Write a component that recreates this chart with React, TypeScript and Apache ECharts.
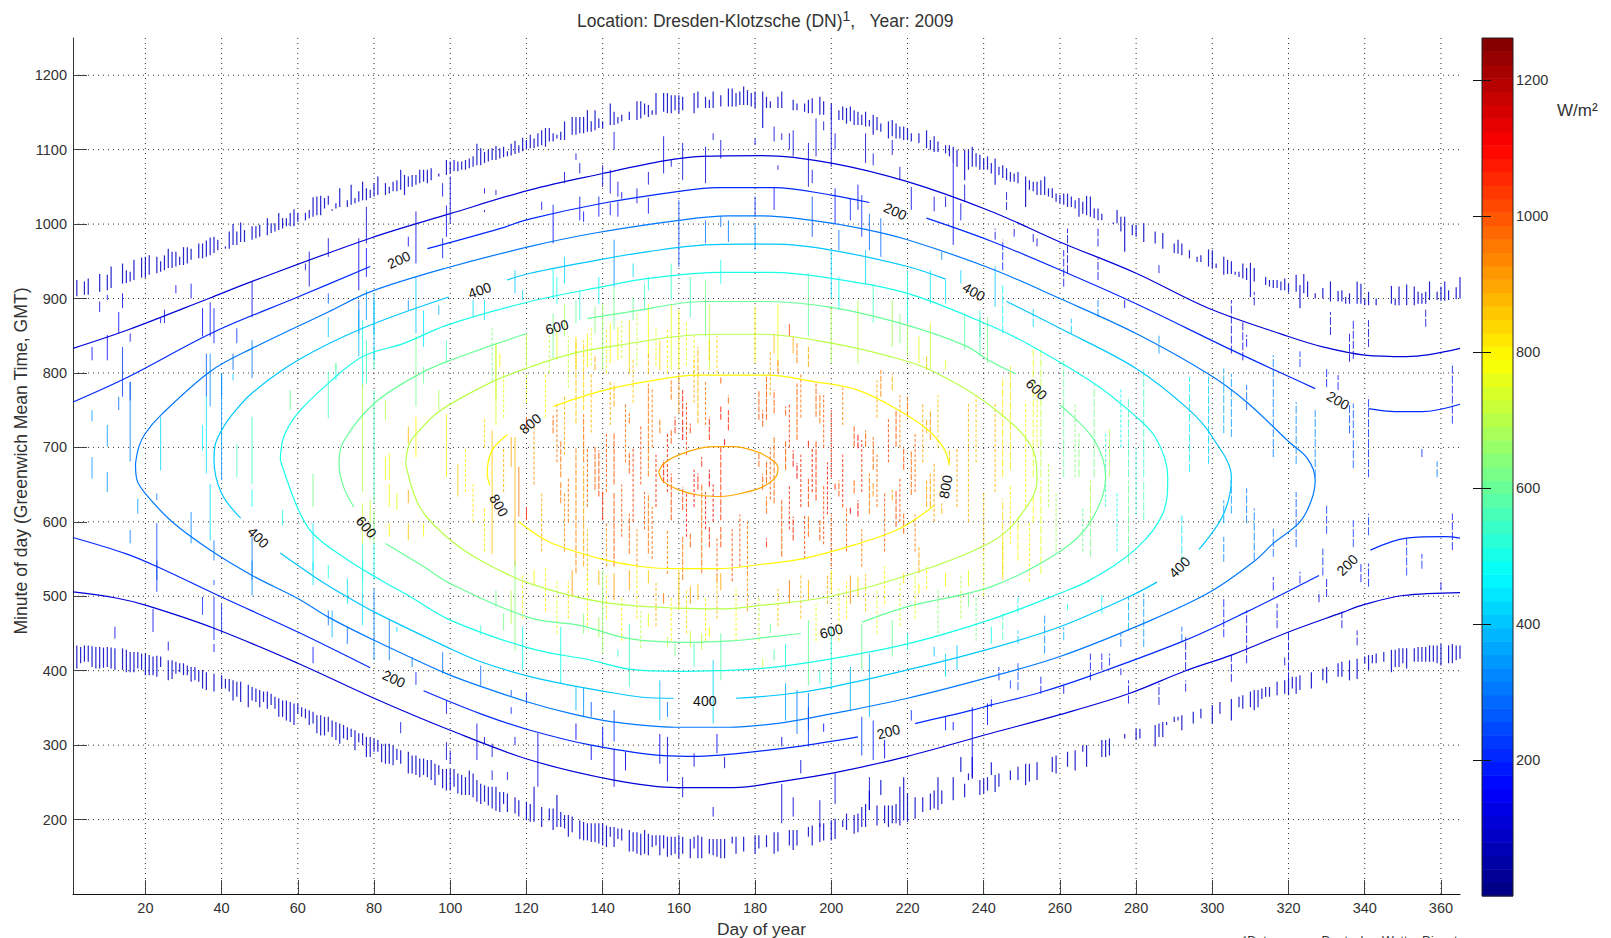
import React, { useEffect, useRef } from "react";
import * as echarts from "echarts";

const TITLE = "Location: Dresden-Klotzsche (DN){sup|1},   Year: 2009";
const X_TICKS = [20, 40, 60, 80, 100, 120, 140, 160, 180, 200, 220, 240, 260, 280, 300, 320, 340, 360];
const Y_TICKS = [200, 300, 400, 500, 600, 700, 800, 900, 1000, 1100, 1200];
const CB_TICKS = [200, 400, 600, 800, 1000, 1200];
const CB_MAX = 1262;

// contour lines: level -> broken segments of [day, minute]
const C100: number[][][] = [
  [[1,833],[15.5,858],[36.6,900],[48,923],[79,981],[100,1014],[121,1046],[140,1068],[156,1085],[166,1091],[182,1092],[200,1082],[220,1057],[242,1017],[260,976],[280,934],[299,887],[320,849],[329,835],[340,824],[351,822],[365,833]],
  [[1,506],[12,498],[20,488],[38,457],[60,410],[80,363],[100,320],[121,280],[143,253],[159.5,243],[174.4,243],[186.6,251],[201,263],[220,285],[242,316],[260,341],[278,369],[293,400],[305,421],[320,452],[334,478],[340,489],[350,501],[365,505]],
];
const C200: number[][][] = [
  [[1,761],[15.6,795],[38,855],[60,902],[79,943]],
  [[94,967],[113,994],[121,1007],[140,1028],[160,1044],[170,1049],[185,1049],[200,1039],[210,1029]],
  [[225,1008],[242,977],[262,934],[280,893],[305,831],[327,779]],
  [[341,752],[348,748],[355,748],[365,758]],
  [[1,579],[15,557],[23,540],[40,499],[60,452],[79,404]],
  [[93,373],[108,342],[121,320],[137,300],[156,286],[165,285],[174,288],[191,298],[207,311]],
  [[222,329],[237,347],[242,354],[255,371],[268,393],[293,441],[309,479],[328,528]],
  [[341.5,562],[351,578],[361,580],[365,578]],
];
const C300: number[][][] = [
  [[17.4,678],[18.3,701],[20,719],[24,743],[37,802],[48,833],[68,882],[79,909],[99,941],[121,970],[138,988],[160,1005],[173,1011],[182,1011],[195,1005],[208,994],[220,979],[242,940],[260,900],[280,853],[299.5,797],[309,761],[320,708],[325,685],[327,656],[326,629],[323,600],[316,571],[311,547],[299.5,506],[284,468],[260,419],[242,392],[220,363],[200,342],[187,330],[173,324],[159,324],[143,331],[132,342],[121,357],[108,379],[99,396],[80,441],[68,472],[60,497],[48,528],[37,562],[27,600],[20,638],[17.8,656],[17.4,678]],
];
const C400: number[][][] = [
  [[45,605],[40,638],[38,683],[38.4,705],[40,723],[42.3,741],[48,773],[60,817],[77,860],[99.6,902]],
  [[115,925],[121,934],[139,952],[152,963],[167,972],[177,973],[185,973],[200,965],[220,943],[230,926]],
  [[246,896],[260,860],[280,806],[294,750],[300,714],[305,660],[303,611],[296.5,563]],
  [[285.5,519],[278,499],[260,459],[242,430],[220,401],[200,378],[187.5,368],[175,363]],
  [[158.6,363],[151,364],[143,370],[132,380],[121,392],[108,412],[99,432],[80,479],[73,499],[65,524],[55.4,558]],
];
const C500: number[][][] = [
  [[55.4,683],[56.3,714],[60,746],[68,786],[77,822],[88,840],[99,864],[121,896],[140,916],[152,927],[171,935],[184,935],[200,927],[220,907],[242,863],[253,835],[269,786],[278,750],[285,714],[288.3,660],[287,611],[280,564],[268,522],[260,504],[242,469],[220,436],[200,416],[182,403],[170,400],[160,399],[147,402],[137,414],[121,430],[100,468],[89,501],[81,524],[73,549],[64,584],[60,618],[55.4,683]],
];
const C600: number[][][] = [
  [[74.7,620],[72,647],[70.8,678],[72,708],[80,759],[92,799],[100,817],[120,853]],
  [[136,873],[147,882],[166.5,896],[182,896],[200,888],[220,864],[235,837],[242,815],[248.4,799]],
  [[260,757],[269,710],[272,660],[268,600],[260,560],[242,513],[220,486],[208,465]],
  [[192,450],[180,443],[173.5,440],[162,438],[147,443],[134,461],[121,471],[100,517],[93,540],[83,571]],
];
const C700: number[][][] = [
  [[88.3,678],[89,701],[90.4,714],[97,748],[111,788],[121,808],[132,826],[144,837],[159.5,849],[171,852],[182,852],[200,840],[215.5,822],[226,804],[242,755],[253,696],[254,656],[249,604],[242,573],[224,535],[200,500],[182,488],[172,483],[159.5,484],[140,492],[121,517],[108,548],[99,580],[92,620],[88.3,678]],
];
const C800: number[][][] = [
  [[110.4,649],[109.7,665],[111,696],[115,717]],
  [[127,755],[139,775],[151,788],[165,797],[183,797],[196,788],[207,777],[217,752],[225,725],[229.5,699],[231,676]],
  [[227,622],[218,591],[206,569],[193,551],[182,543],[170,537],[160,537],[150,540],[139,551],[126,573],[118,600]],
];
const C900: number[][][] = [
  [[154.7,667],[156,678],[160,690],[165.7,699],[171,701],[174,701],[180.6,694],[185,681],[186,672],[185.4,660],[182,647],[177,639],[171,634],[165,636],[160,643],[156,654],[154.7,667]],
];
const CONTOURS: [number, number[][][]][] = [[100,C100],[200,C200],[300,C300],[400,C400],[500,C500],[600,C600],[700,C700],[800,C800],[900,C900]];

// [label, day, minute, rotation in degrees]
const CONTOUR_LABELS: [string, number, number, number][] = [
  ["200",86.5,952,25],["400",107.7,911,20],["600",128,862,15],["800",121,732,40],["800",112.8,622,-60],["600",78,593,-50],["400",49.6,579,-45],
  ["200",85.2,389,-25],["400",166.8,359,0],["200",215,318,15],["600",200,453,15],["200",216.8,1017,-25],["400",237.4,909,-30],["600",253.9,778,-45],
  ["200",333,763,-30],["800",230,647,80],["400",291.4,539,45],["200",335.4,542,45],
];

// short outer bars: [day, from minute, to minute]
const TOP_BAND: number[][] = [
[2,903,925],[4,905,923],[5,905,927],[8,909,933],[10,911,932],[11,914,943],[14,920,947],[15,921,938],[16,923,936],[17,925,952],[19,928,955],[20,928,956],[21,932,958],[23,934,956],[24,936,950],[25,938,958],[26,941,967],[27,941,963],[28,943,963],[29,945,956],[30,945,969],[31,947,969],[32,952,967],[34,954,974],[35,954,974],[36,956,978],[37,958,982],[38,961,983],[39,965,979],[41,967,970],[42,967,990],[43,972,1000],[44,972,990],[45,976,1002],[46,976,992],[48,979,997],[49,981,997],[50,983,999],[52,985,1008],[53,988,1001],[54,990,1001],[55,992,1015],[56,994,1008],[57,997,1008],[58,997,1015],[59,997,1020],[60,1003,1015],[62,1005,1015],[63,1008,1019],[64,1010,1036],[65,1012,1037],[66,1012,1038],[67,1021,1035],[68,1026,1038],[69,1018,1020],[70,1021,1028],[71,1023,1048],[73,1023,1032],[74,1026,1053],[75,1028,1035],[76,1030,1044],[77,1032,1057],[78,1032,1048],[79,1035,1046],[80,1037,1055],[81,1039,1064],[83,1039,1055],[84,1041,1050],[85,1044,1057],[86,1044,1059],[87,1046,1073],[88,1039,1066],[89,1050,1064],[90,1050,1066],[91,1053,1066],[92,1055,1073],[93,1057,1073],[94,1055,1073],[95,1059,1075],[97,1064,1068],[99,1066,1086],[100,1068,1084],[101,1071,1086],[102,1071,1084],[103,1073,1084],[104,1073,1086],[105,1075,1088],[106,1077,1091],[107,1079,1108],[108,1079,1102],[109,1082,1097],[110,1084,1100],[111,1086,1102],[112,1086,1105],[113,1088,1102],
[114,1090,1104],[115,1091,1098],[116,1092,1108],[117,1094,1112],[118,1096,1106],[119,1098,1116],[120,1100,1113],
[121,1102,1120],[122,1102,1115],[123,1104,1122],[124,1106,1126],[125,1104,1129],[126,1111,1129],[127,1111,1122],[128,1115,1120],[129,1113,1124],[130,1113,1138],[132,1120,1144],[133,1120,1144],[134,1122,1144],[135,1122,1144],[136,1124,1153],[137,1124,1138],[138,1126,1153],[139,1129,1142],[140,1129,1138],[142,1133,1162],[143,1133,1151],[144,1135,1144],[145,1138,1147],[147,1140,1151],[149,1140,1165],[150,1142,1165],[151,1147,1162],[152,1144,1160],[153,1147,1153],[154,1147,1176],[156,1151,1176],[157,1149,1176],[158,1149,1173],[159,1153,1173],[160,1149,1173],[161,1153,1171],[164,1149,1176],[165,1156,1178],[167,1156,1171],[168,1156,1167],[169,1156,1178],[171,1158,1173],[173,1158,1182],[174,1158,1182],[175,1158,1176],[176,1160,1178],[177,1160,1185],[178,1160,1180],[179,1158,1176],[180,1156,1178],[182,1129,1178],[183,1156,1171],[184,1156,1165],[186,1156,1171],[187,1156,1178],[190,1153,1167],[191,1153,1162],[193,1151,1162],[194,1149,1167],[195,1149,1169],[197,1147,1171],[198,1147,1165],[200,1140,1162],[202,1140,1153],[203,1140,1158],[204,1135,1156],[205,1138,1158],[206,1133,1153],[207,1133,1151],[208,1133,1147],[209,1131,1151],[210,1131,1140],[211,1120,1147],[212,1126,1144],[213,1124,1135],[215,1115,1138],[216,1118,1140],[217,1115,1135],[218,1115,1131],[219,1113,1131],[220,1113,1129],[221,1111,1122],[223,1109,1122],[225,1102,1126],[226,1100,1113],[227,1097,1118],[228,1097,1111],[230,1095,1106],[231,1091,1106],[232,1082,1104],[233,1077,1100],[235,1059,1100],[236,1073,1100],[237,1077,1104],[238,1077,1095],[239,1073,1093],[240,1073,1088],[241,1073,1091],[242,1068,1082],[243,1053,1088],[244,1066,1077],
[245,1062,1079],[246,1059,1075],[247,1057,1070],[248,1057,1068],[249,1055,1070],[251,1023,1064],[252,1046,1059],[253,1044,1057],[254,1039,1057],[255,1039,1059],[256,1039,1064],[257,1037,1048],[258,1035,1048],[259,1030,1041],[260,1028,1039],[261,1026,1041],[262,1023,1041],[263,1023,1037],[264,1021,1032],[265,1010,1035],[266,1014,1030],[267,1012,1038],[268,1010,1037],[269,1008,1021],[270,1005,1021],[271,1005,1014],[274,1000,1002],[275,1001,1019],[276,990,1010],[277,963,1010],[279,985,999],[280,983,999],[282,976,1001],[285,974,990],[287,967,988],[290,961,974],[291,960,979],[292,958,974],[294,954,965],[296,949,956],[297,949,958],[299,943,966],[300,941,965],[301,941,947],[303,932,956],[304,933,952],[305,933,950],[306,932,936],[307,929,936],[308,927,947],[309,925,941],[310,902,948],[311,923,941],[314,918,929],[315,916,925],[316,914,925],[317,914,925],[318,911,923],[319,911,927],[320,908,920],[322,909,932],[323,887,918],[324,907,933],[325,902,923],[327,900,907],[329,900,914],[331,896,923],[333,896,910],[334,896,911],[335,893,902],[336,893,907],[338,893,923],[339,893,920],[340,891,900],[341,891,909],[343,891,900],[347,893,917],[348,891,900],[349,891,916],[351,891,919],[353,891,916],[354,893,909],[355,893,907],[356,893,909],[357,898,923],[359,898,909],[360,897,916],[361,897,923],[362,898,911],[364,899,915],[365,900,929],
];
const BOTTOM_BAND: number[][] = [
[2,403,434],[3,410,432],[4,412,434],[5,412,434],[6,405,433],[7,403,432],[8,403,432],[9,404,431],[10,405,432],[11,403,431],[12,401,430],[14,401,430],[15,398,428],[16,398,425],[17,398,425],[18,403,425],[19,401,423],[20,394,423],[21,394,421],[22,394,419],[23,392,420],[24,405,419],[26,387,414],[27,389,414],[28,396,412],[29,398,410],[30,394,410],[31,394,407],[32,385,405],[33,387,405],[34,385,401],[35,376,401],[36,374,398],[38,372,396],[40,376,394],[41,376,389],[42,372,389],[43,360,387],[44,365,385],[45,358,385],[47,351,381],[48,360,378],[49,358,376],[50,351,374],[51,358,372],[52,349,372],[53,354,369],[54,349,365],[55,338,363],[56,338,360],[57,333,360],[58,331,358],[59,327,356],[60,342,356],[61,338,351],[62,336,349],[63,327,347],[64,329,345],[65,316,340],[66,313,340],[67,313,338],[68,318,338],[69,311,333],[70,307,331],[71,302,329],[72,309,327],[73,307,324],[74,311,322],[75,293,320],[76,304,316],[77,300,316],[78,284,311],[79,284,311],[80,291,309],[81,291,307],[82,277,302],[83,275,302],[84,275,302],[85,273,300],[86,280,295],[87,275,293],[89,262,291],[90,262,286],[91,260,286],[92,257,282],[93,260,282],[94,257,280],[95,253,280],[96,246,275],[97,260,273],[98,242,268],[99,239,268],[100,239,268],[101,244,268],[102,235,262],[103,233,260],[104,233,257],[105,233,266],[106,230,262],[107,224,253],[108,221,248],[109,224,246],[110,219,244],[111,215,244],[112,212,244],[113,210,237],[114,221,237],[115,210,235],[117,208,230],[118,204,226],[120,199,224],[121,197,221],[122,197,244],
[124,190,217],[126,199,215],[127,186,215],[128,190,233],[129,190,210],[130,188,206],[131,177,206],[132,183,204],[134,174,199],[135,172,197],[136,172,195],[137,170,195],[138,170,195],[139,168,195],[140,165,195],[141,163,192],[142,177,190],[143,163,190],[144,174,188],[145,172,188],[147,157,186],[148,157,183],[149,154,183],[150,152,181],[151,154,186],[152,152,181],[153,163,179],[154,165,179],[155,152,179],[156,161,179],[157,150,177],[158,152,177],[159,154,177],[160,148,179],[161,154,177],[163,148,174],[164,161,177],[165,148,179],[166,148,177],[168,154,174],[169,152,174],[170,150,174],[171,148,174],[172,148,174],[174,168,177],[175,154,177],[177,157,177],[180,154,179],[181,161,179],[183,163,179],[185,154,183],[186,157,183],[189,165,186],[190,159,186],[191,165,186],[194,177,190],[195,165,192],[197,170,195],[198,172,195],[200,172,199],[201,174,201],[203,190,199],[204,186,208],[206,181,206],[207,183,208],[208,190,217],[209,190,221],[210,213,239],[212,192,219],[213,233,253],[214,195,219],[215,190,219],[216,195,219],[217,195,221],[218,192,244],[219,199,257],[220,197,235],[222,201,230],[224,210,230],[226,213,235],[227,215,239],[228,213,257],[229,221,239],[232,226,257],[234,264,284],[235,230,248],[236,253,262],[237,255,284],[239,233,253],[240,235,255],[241,239,257],[242,260,277],[243,237,260],[244,244,262],
[247,253,266],[249,253,271],[251,246,275],[252,251,275],[254,253,277],[258,264,284],[259,262,286],[262,271,291],[264,266,293],[266,291,300],[267,271,300],[271,284,307],[272,284,307],[273,286,309],[277,309,315],[280,307,322],[281,309,322],[285,298,327],[286,311,329],[287,311,331],[288,327,331],[290,331,338],[291,333,338],[292,320,340],[295,329,345],[297,336,349],[300,329,354],[302,342,358],[305,333,362],[307,351,365],[308,349,367],[310,351,372],[311,347,374],[312,351,374],[313,362,376],[314,365,378],[315,365,378],[317,367,385],[319,369,387],[320,367,389],[321,376,392],[322,369,392],[323,374,394],[326,376,398],[329,387,403],[330,383,405],[333,392,410],[334,392,412],[336,387,414],[338,389,416],[340,410,419],[341,401,421],[342,410,421],[343,410,423],[345,412,425],[347,398,428],[348,405,428],[349,405,430],[350,410,430],[351,403,430],[353,412,430],[354,412,432],[355,412,432],[356,412,432],[357,412,434],[358,412,434],[359,410,434],[360,407,436],[362,410,434],[363,410,436],[364,414,434],[365,416,434],
];

// inner bars: [day, from minute, to minute, W/m2]
const INNER_LEFT: number[][] = [
[8,882,896,130],[10,898,905,130],[10,817,851,170],[6,817,835,170],[14,887,907,130],[13,853,882,150],[16,842,853,150],[14,768,835,230],[16,763,788,230],[28,907,918,120],[32,900,920,120],[35,849,887,150],[37,849,895,170],[38,840,887,180],[24,867,875,140],[25,867,885,130],[44,840,860,210],[48,875,922,120],[48,793,844,300],[36,768,826,260],[40,768,800,300],[43,804,826,280],[62,938,947,110],[63,916,963,110],[68,956,981,100],[68,893,907,280],[68,848,875,400],[70,790,813,500],[76,911,981,120],[76,853,898,280],[78,974,1023,110],[78,929,968,170],[78,871,911,350],[78,786,844,550],[80,853,907,380],[80,804,835,550],[89,970,983,150],[91,947,1017,120],[91,853,929,400],[89,884,898,350],[93,835,884,450],[97,878,891,380],[98,1037,1055,100],[99,983,1025,120],[98,954,981,180],[100,1001,1064,100],[106,875,898,420],[109,871,898,450],[109,1041,1048,100],[109,1016,1019,120],[112,1039,1046,100],[99,813,844,560],[112,764,840,720],
[6,735,750,350],[6,658,687,350],[10,701,730,350],[10,640,667,350],[13,750,768,290],[16,681,788,300],[16,571,589,300],[18,611,631,350],[23,629,638,300],[23,506,548,200],[24,669,741,430],[23,522,598,240],[32,571,613,320],[35,696,730,470],[36,665,768,440],[37,755,826,320],[37,575,651,430],[38,548,575,300],[40,656,800,340],[43,790,799,400],[44,660,705,560],[48,651,741,550],[48,620,643,480],[48,522,580,300],[58,750,777,600],[56,595,616,500],[68,739,802,560],[64,620,665,620],[64,535,598,450],[70,804,813,650],[76,822,885,380],[77,781,871,500],[77,640,786,700],[77,571,625,720],[80,817,898,400],[80,625,777,560],[80,571,615,640],[77,522,571,520],[80,522,571,480],[79,575,629,720],[83,737,763,700],[83,656,687,780],[84,656,692,800],[84,620,651,780],[84,580,598,800],[86,616,638,750],[89,705,728,880],[89,625,643,900],[89,575,598,850],[91,755,850,620],[91,687,741,800],[93,786,808,600],[93,580,598,780],[97,750,777,680],[99,660,745,820],[102,634,678,850],[112,730,840,740],[111,557,723,850],[113,808,826,800],[116,674,714,900],[117,540,714,880],[118,607,674,950],[120,808,853,720],[120,602,620,1050],[120,723,741,1000],[119,898,911,430],[117,907,938,400],
[12,443,459,130],[22,452,483,130],[26,427,439,100],[35,475,499,200],[38,515,522,240],[38,441,499,200],[38,425,436,130],[40,450,490,200],[48,501,548,320],[64,515,546,450],[64,410,432,160],[68,524,542,500],[68,461,481,290],[69,445,481,380],[73,490,524,450],[73,436,459,290],[77,504,548,500],[77,461,504,450],[80,414,510,320],[84,414,468,300],[86,452,459,420],[87,316,331,100],[90,405,418,300],[91,381,398,180],[98,396,425,300],[99,342,360,130],[99,280,304,110],[100,275,293,100],[108,448,461,550],[108,380,407,280],[107,280,329,110],[109,302,311,120],[111,284,302,100],[111,253,266,100],[115,253,264,100],[116,365,374,250],[116,342,351,180],[117,300,311,120],[117,427,548,650],[119,400,459,480],[120,356,371,230],[123,244,316,120],[116,463,508,700],[112,486,508,620],[114,454,477,620],[122,515,535,800],
];
const INNER_TOP: number[][] = [
[140,1050,1079,100],[143,1100,1124,100],[156,1068,1118,100],[158,1077,1086,110],[161,1059,1109,110],[167,1055,1104,110],[169,1113,1122,100],[171,1088,1113,100],[180,1106,1115,100],[185,1111,1131,100],[187,1113,1122,100],[189,1100,1122,100],[190,1091,1126,100],[194,1050,1109,110],[196,1091,1142,100],[198,1126,1138,100],[200,1077,1140,100],[201,1100,1122,100],[186,1073,1079,120],[209,1082,1122,100],[211,1079,1095,100],[216,1093,1113,100],[218,1059,1077,110],[221,1019,1050,130],[227,1017,1037,110],[230,1023,1037,120],[232,972,1082,120],[234,1005,1028,130],[235,1030,1053,110],[134,1068,1082,100],[130,1055,1070,100],[133,1086,1095,100],[142,1041,1073,110],[144,1037,1057,120],[145,1034,1043,120],[149,1028,1048,120],[152,1053,1070,110],[152,1014,1035,150],[144,1010,1030,160],[124,1019,1030,150],[127,974,1026,170],[134,1005,1037,150],[135,1003,1017,170],[139,1010,1037,160],[142,1012,1028,170],[160,943,1032,250],[158,898,947,550],[167,974,1005,300],[171,996,1010,280],[173,976,1005,300],[180,1010,1037,200],[180,965,1001,330],[185,1019,1050,170],[195,1055,1073,110],[195,983,1037,240],[201,1001,1048,170],[202,965,992,300],[205,1005,1035,200],[207,1019,1053,130],[208,983,1039,200],[210,965,1014,280],[213,956,1008,280],[209,920,965,420],[220,867,938,500],[226,893,938,450],[229,952,963,330],[230,893,925,450],[234,920,938,420],[243,889,943,410],[239,849,884,550],
[127,900,940,480],[127,820,880,620],[128,893,929,500],[128,818,858,750],[130,920,956,430],[130,849,893,680],[133,867,898,600],[133,808,849,820],[134,871,911,520],[136,808,853,800],[138,853,889,650],[139,893,929,480],[140,804,893,660],[142,813,867,800],[143,916,979,330],[143,858,916,620],[144,817,862,780],[147,808,871,830],[148,929,947,420],[148,871,902,600],[151,885,920,560],[152,911,929,500],[152,822,893,770],[155,804,844,840],[158,804,893,760],[160,804,885,800],[163,875,929,560],[167,849,925,620],[168,804,893,720],[171,920,952,500],[180,813,889,800],[186,808,893,780],[185,826,853,850],[189,849,866,1030],[190,826,849,900],[194,849,934,600],[200,900,965,420],[200,813,890,680],[202,885,929,480],[207,813,898,700],[211,867,920,560],[216,835,898,680],[218,840,880,640],[220,822,867,680],[223,813,849,760],[226,804,867,720],[230,804,817,760],[235,831,880,590],[239,822,875,560],[241,813,875,620],
];
const INNER_CENTER: number[][] = [
[127,719,743,980],[129,660,710,950],[129,625,655,950],[133,732,844,860],[133,531,699,930],[135,750,844,830],[135,680,745,950],[135,540,675,900],[138,804,822,900],[138,643,701,1000],[139,634,696,1020],[140,602,643,1050],[143,755,786,900],[143,650,719,1000],[143,540,640,1000],[147,799,808,860],[147,732,746,980],[147,665,692,1000],[147,557,611,980],[152,799,826,880],[152,661,786,950],[152,557,638,960],[155,719,737,950],[156,652,683,1080],[158,764,790,960],[158,705,723,1000],[158,602,665,1010],[159,719,741,1050],[160,746,799,930],[161,741,777,1080],[161,710,737,1100],[161,616,647,1020],[161,522,580,960],[163,719,732,1040],[163,566,584,1000],[165,732,835,870],[165,643,665,1050],[166,674,687,1050],[166,531,652,980],[168,817,844,830],[168,710,741,1060],[168,647,670,1120],[168,566,593,1050],[171,786,795,1000],[171,737,755,1080],[171,602,701,1040],[171,566,593,1020],[172,703,712,1130],[173,759,770,980],[173,723,750,1060],[181,737,777,1000],[181,674,692,1000],[182,728,750,1020],[182,643,665,1000],[183,737,795,1000],[183,652,683,1000],[183,611,634,980],[183,566,578,1060],[185,746,777,1000],[185,625,716,980],[186,799,817,950],[187,553,629,1000],[188,743,755,1000],[188,670,710,1000],[190,575,607,1050],[190,674,696,1080],[191,813,840,960],[191,710,786,1000],[191,658,679,1110],[194,808,835,900],[194,701,710,1080],[194,620,658,1010],[194,580,607,980],[196,741,786,990],[196,629,710,1040],[197,732,773,960],[197,575,602,1000],[201,643,652,1050],[202,634,656,1000],[205,611,620,1100],[206,701,728,1010],[206,638,656,1000],[207,699,719,1100],[207,607,629,1090],[209,701,723,1000],[210,611,665,950],[211,670,714,980],[211,634,652,920],[213,768,804,930],[216,777,799,880],[216,629,643,900],[217,701,750,1000],[217,593,643,1020],[219,670,701,1000],[219,584,611,1000],[221,636,696,980],[220,741,768,950],[225,804,822,860],[225,719,737,900],[225,620,656,900],[226,710,750,920],[226,620,665,900],[223,531,566,900],[229,611,625,870],[231,679,696,860],
];
const INNER_BELOW: number[][] = [
[132,499,535,900],[139,515,535,870],[143,495,531,900],[147,508,535,900],[152,517,535,860],[156,490,504,950],[160,481,535,860],[163,490,513,900],[165,495,517,860],[171,508,531,900],[189,490,522,950],[194,495,522,870],[200,504,535,820],[205,490,528,920],[207,499,526,830],[219,517,531,820],[223,504,517,800],[230,513,531,780],[236,513,535,750],
[129,383,459,500],[135,450,477,650],[139,445,472,680],[140,423,535,660],[144,419,428,520],[147,378,463,560],[152,459,477,760],[157,432,445,700],[159,419,436,620],[163,432,454,720],[164,405,436,560],[166,428,450,700],[168,445,459,800],[169,329,414,420],[171,387,450,580],[182,403,416,720],[185,414,428,580],[184,450,463,620],[188,401,436,500],[194,380,468,600],[194,320,370,300],[197,383,401,520],[200,374,459,520],[205,347,405,380],[208,401,463,620],[210,338,423,380],[216,419,468,600],[220,428,450,500],[227,419,432,400],[230,392,423,420],[233,401,434,400],[236,486,504,620],[242,436,459,500],
[133,347,378,380],[133,307,329,150],[135,338,378,340],[137,338,358,260],[137,280,300,130],[143,305,347,220],[143,244,295,130],[140,298,325,170],[146,266,291,110],[155,333,387,400],[155,275,315,140],[157,338,358,300],[157,251,311,130],[161,230,257,110],[164,271,289,110],[169,204,217,100],[170,289,315,140],[172,269,284,110],[187,298,311,130],[187,195,248,110],[188,333,383,370],[191,315,374,310],[192,262,280,110],[198,318,329,140],[201,221,262,100],[190,204,230,110],[197,190,226,100],[194,298,351,240],[208,286,338,220],[211,280,333,200],[214,282,307,140],[210,213,257,100],[221,333,347,210],[230,320,338,180],[232,320,331,170],[237,257,351,140],[241,327,356,180],
];
const INNER_RIGHT: number[][] = [
[243,979,994,110],[246,1019,1043,100],[248,983,997,100],[253,976,987,100],[254,970,983,100],[262,934,994,110],[261,916,965,130],[270,970,994,100],[270,925,954,100],[277,887,898,130],[286,934,945,100],[305,826,898,110],[308,817,869,120],[309,835,851,130],[331,851,882,100],[337,819,871,130],[336,815,853,120],[341,835,871,110],[356,862,885,100],[311,891,909,100],[323,808,829,200],[330,781,808,180],[333,777,797,180],[316,687,824,300],[322,678,761,330],[327,660,750,320],[337,672,759,260],[336,719,759,240],[341,660,768,200],[363,732,813,180],[355,687,701,200],[359,660,681,300],[309,750,784,290],[303,719,806,370],[305,714,799,350],[299,678,795,420],[294,667,795,470],[286,826,853,350],[263,853,873,400],[270,875,898,330],[253,862,889,430],[282,660,808,550],[278,660,768,570],[273,660,727,680],[269,660,786,620],[265,660,719,650],[261,660,817,600],[255,660,835,720],[253,660,835,760],[247,670,809,820],[245,938,979,180],[245,853,920,470],[245,660,795,820],
[292,544,611,450],[292,439,459,280],[303,598,629,350],[303,546,580,330],[305,611,656,350],[309,598,645,300],[311,548,618,310],[316,553,593,280],[322,566,640,270],[330,584,622,220],[337,566,602,220],[341,582,611,230],[341,513,544,190],[339,519,544,170],[329,528,564,200],[330,499,526,130],[328,492,506,120],[323,517,533,180],[309,410,481,150],[303,445,499,180],[316,508,526,170],[317,457,490,130],[319,407,418,110],[320,387,452,120],[334,457,479,110],[338,434,454,100],[351,528,578,230],[355,537,557,200],[360,508,522,160],[363,562,611,180],[293,401,445,130],[293,372,387,110],[305,385,421,110],[286,354,383,110],[278,356,387,120],[271,401,423,170],[276,394,403,130],[268,387,423,160],[273,407,423,210],[261,369,383,130],[255,369,392,140],[256,423,477,320],[242,351,365,150],[244,387,405,200],[247,376,387,220],[249,374,410,250],[249,477,499,500],[249,436,454,420],[245,441,477,560],[245,530,575,800],[261,441,459,380],[262,481,490,520],[268,598,656,680],[268,553,598,620],[271,477,504,470],[278,544,656,600],[282,602,656,560],[282,432,504,340],[278,454,499,390],[276,432,450,280],[255,530,656,750],[253,598,634,780],[249,548,607,780],[245,522,631,830],
];
const INNER_STREAKS: number[][] = [
[104,640,700,800],[106,600,650,820],[109,700,740,840],[109,560,620,820],[114,640,700,880],[114,740,800,760],[122,650,730,920],[124,560,640,900],[125,740,800,800],[128,680,760,950],
[130,560,640,930],[130,690,770,900],[131,600,660,960],[136,620,700,980],[136,520,590,880],[137,720,800,880],[141,640,720,1000],[141,540,600,930],[142,730,790,900],[145,580,650,1000],[146,680,760,980],[148,600,700,1040],[148,760,820,850],[149,540,590,940],[150,650,730,1020],[151,590,640,1000],[153,700,780,950],[153,550,620,980],[154,620,690,1060],[157,640,720,1060],[157,530,590,930],[162,690,760,1040],[162,580,640,1080],[164,620,670,1100],[164,760,820,890],[167,590,640,1080],[167,730,790,960],[169,600,650,1120],[170,520,580,980],[174,520,590,1020],[176,540,610,1000],[178,530,600,950],[184,630,700,1000],[184,770,830,890],[189,590,650,1060],[189,700,760,1040],[192,620,690,1060],[192,740,800,960],[193,550,610,1010],[195,640,700,1080],[198,570,650,1020],[198,700,770,1000],[199,610,680,1080],[203,620,690,1060],[203,730,780,930],[204,560,620,1000],[208,640,710,1040],[208,540,590,960],[212,620,690,980],[212,740,790,900],[214,560,640,1000],[215,680,740,1020],[218,600,660,1020],[218,700,770,940],[222,640,720,980],[222,560,610,960],[224,680,760,900],[227,600,680,920],[228,700,770,850],[200,540,610,1000],[200,660,750,1060],
[111,790,860,620],[120,760,800,760],[126,800,850,700],[131,780,850,720],[137,810,860,750],[141,800,860,760],[145,820,870,720],[149,810,880,720],[154,810,860,780],[157,800,860,800],[162,810,870,760],[164,800,850,820],[170,800,850,830],
[119,470,530,780],[125,480,540,800],[128,450,520,760],[131,470,520,820],[136,460,530,800],[141,470,530,820],[145,440,500,780],[149,470,540,820],[150,430,480,700],[154,460,520,880],[158,440,500,800],[162,450,510,840],[167,440,500,800],[170,470,530,880],[175,440,510,800],[178,480,530,920],[181,440,500,720],[186,460,510,850],[192,470,530,880],[196,440,490,760],[199,490,530,900],[202,440,510,780],[204,470,520,800],[209,480,530,850],[212,450,510,760],[214,490,540,800],[218,460,520,740],[222,470,530,760],[225,510,540,800],[228,450,510,640],[234,470,530,700],[238,440,500,620],[240,500,560,760],
[233,620,700,900],[236,600,760,880],[238,680,770,860],[240,560,640,850],[243,640,760,880],[247,570,650,800],[251,620,760,780],[252,520,600,780],[254,700,780,760],[257,620,680,700],[259,560,640,680],[264,660,760,640],[266,560,620,610],[272,620,720,540],[275,560,640,500],[276,700,780,480],[280,610,700,520],
];

const BAND_VALUE = 95;

function jet(v: number): string {
  const idx = Math.min(63, Math.max(0, Math.floor((v / CB_MAX) * 64)));
  const t = (idx + 0.5) / 64;
  const c = (k: number) => Math.round(255 * Math.min(1, Math.max(0, 1.5 - Math.abs(4 * t - k))));
  return `rgb(${c(3)},${c(2)},${c(1)})`;
}

const FONT = "'Liberation Sans', Arial, sans-serif";
const TEXT = "#333";

function barSeries(data: number[][], width: number, opacity: number, dash?: number[]) {
  return {
    type: "custom", coordinateSystem: "cartesian2d", xAxisIndex: 0, yAxisIndex: 0, silent: true, z: 3,
    encode: { x: 0, y: [1, 2] },
    data,
    renderItem: (_: any, api: any) => {
      const a = api.coord([api.value(0), api.value(1)]);
      const b = api.coord([api.value(0), api.value(2)]);
      return { type: "line", shape: { x1: a[0], y1: a[1], x2: b[0], y2: b[1] }, style: { stroke: jet(api.value(3)), lineWidth: width, opacity, lineDash: dash } };
    },
  };
}

export default function App() {
  const ref = useRef<HTMLDivElement>(null);
  useEffect(() => {
    document.body.style.margin = "0";
    document.documentElement.style.overflow = "hidden";
    const chart = echarts.init(ref.current!, undefined, { renderer: "svg" });
    const plain = (v: number) => String(v);
    const tickLabel = { color: TEXT, fontSize: 14.5, fontFamily: FONT, formatter: plain };
    const gridLines = [
      ...X_TICKS.map((d) => [d, 100, d, 1250]),
      ...Y_TICKS.map((m) => [1, m, 365, m]),
    ];
    const bands = [...TOP_BAND, ...BOTTOM_BAND].map((b) => [b[0], b[1], b[2], BAND_VALUE]);
    const levels = Array.from({ length: 64 }, (_, i) => [((i + 0.5) / 64) * CB_MAX, (i / 64) * CB_MAX, ((i + 1) / 64) * CB_MAX]);
    const contourSeries = CONTOURS.flatMap(([lvl, segs]) =>
      segs.map((seg) => ({
        type: "line", xAxisIndex: 0, yAxisIndex: 0, data: seg, showSymbol: false, smooth: 0.35, silent: true, z: 4,
        lineStyle: { color: jet(lvl), width: 1.2 },
      }))
    );
    chart.setOption({
      animation: false,
      title: {
        text: TITLE, left: 572, top: 4,
        textStyle: { color: TEXT, fontSize: 17.5, fontWeight: "normal", fontFamily: FONT, rich: { sup: { fontSize: 14, color: TEXT, fontFamily: FONT, padding: [0, 0, 9, 0] } } },
      },
      grid: [
        { left: 73, top: 38, width: 1387, height: 856, outerBoundsMode: "none" },
        { left: 1482, top: 38, width: 31, height: 858, outerBoundsMode: "none" },
      ],
      xAxis: [
        {
          type: "value", gridIndex: 0, min: 1, max: 365, name: "Day of year", nameLocation: "middle", nameGap: 26,
          nameTextStyle: { color: TEXT, fontSize: 17.4, fontFamily: FONT, padding: [0, 10, 0, 0] },
          axisLine: { show: true, lineStyle: { color: "#111", width: 1 } },
          axisTick: { show: true, inside: true, length: 14, customValues: X_TICKS, lineStyle: { color: "#444", width: 1 } },
          axisLabel: { ...tickLabel, margin: 6, customValues: X_TICKS, showMinLabel: true, showMaxLabel: true },
          splitLine: { show: false },
        },
        { type: "value", gridIndex: 1, min: 0, max: 1, show: false },
      ],
      yAxis: [
        {
          type: "value", gridIndex: 0, min: 100, max: 1250, name: "Minute of day (Greenwich Mean Time, GMT)", nameLocation: "middle", nameGap: 43, nameRotate: 90, nameMoveOverlap: false,
          nameTextStyle: { color: TEXT, fontSize: 17.6, fontFamily: FONT, padding: [0, 0, 0, 10] },
          axisLine: { show: true, lineStyle: { color: "#333", width: 1 } },
          axisTick: { show: true, inside: true, length: 14, customValues: Y_TICKS, lineStyle: { color: "#444", width: 1 } },
          axisLabel: { ...tickLabel, margin: 6, customValues: Y_TICKS },
          splitLine: { show: false },
        },
        {
          type: "value", gridIndex: 1, min: 0, max: CB_MAX, position: "right", z: 10,
          axisLine: { show: false },
          axisTick: { show: true, inside: true, length: 9, customValues: CB_TICKS, lineStyle: { color: "#111", width: 1 } },
          axisLabel: { ...tickLabel, margin: 3, customValues: CB_TICKS },
          splitLine: { show: false },
        },
        {
          type: "value", gridIndex: 1, min: 0, max: CB_MAX, position: "left", z: 10,
          axisLine: { show: false },
          axisTick: { show: true, inside: true, length: 9, customValues: CB_TICKS, lineStyle: { color: "#111", width: 1 } },
          axisLabel: { show: false },
          splitLine: { show: false },
        },
      ],
      graphic: [
        { type: "rect", z: 20, silent: true, shape: { x: 1482, y: 38, width: 31, height: 858 }, style: { fill: "none", stroke: "#222", lineWidth: 1 } },
        { type: "text", x: 1557, y: 110, silent: true, style: { text: "W/m²", fill: TEXT, fontSize: 17, fontFamily: FONT, verticalAlign: "middle" } },
        { type: "text", x: 1243, y: 934, silent: true, style: { text: "¹Data source: Deutscher Wetter Dienst", fill: TEXT, fontSize: 12.5, fontFamily: FONT, verticalAlign: "top" } },
      ],
      series: [
        {
          type: "custom", xAxisIndex: 0, yAxisIndex: 0, silent: true, z: 1, data: gridLines,
          encode: { x: [0, 2], y: [1, 3] },
          renderItem: (_: any, api: any) => {
            const a = api.coord([api.value(0), api.value(1)]);
            const b = api.coord([api.value(2), api.value(3)]);
            return { type: "line", shape: { x1: a[0], y1: a[1], x2: b[0], y2: b[1] }, style: { stroke: "#333", lineWidth: 1, lineDash: [1, 4] } };
          },
        },
        barSeries(bands, 1.2, 0.85),
        barSeries(INNER_LEFT, 1, 0.8),
        barSeries(INNER_TOP, 1, 0.8),
        barSeries(INNER_CENTER, 1.1, 0.8, [6, 1.5]),
        barSeries(INNER_BELOW, 1, 0.85),
        barSeries(INNER_RIGHT, 1, 0.8, [8, 2]),
        barSeries(INNER_STREAKS, 1.1, 0.8, [3, 2]),
        ...contourSeries,
        {
          type: "custom", xAxisIndex: 0, yAxisIndex: 0, silent: true, z: 6, data: CONTOUR_LABELS,
          encode: { x: 1, y: 2 },
          renderItem: (p: any, api: any) => {
            const item = CONTOUR_LABELS[p.dataIndex];
            const c = api.coord([item[1], item[2]]);
            return {
              type: "text", x: c[0], y: c[1], rotation: (item[3] * Math.PI) / 180,
              style: { text: item[0], fill: "#111", fontSize: 14, fontFamily: FONT, align: "center", verticalAlign: "middle" },
            };
          },
        },
        {
          type: "custom", xAxisIndex: 1, yAxisIndex: 1, silent: true, z: 2, data: levels,
          encode: { y: [1, 2] },
          renderItem: (_: any, api: any) => {
            const a = api.coord([0, api.value(1)]);
            const b = api.coord([1, api.value(2)]);
            return { type: "rect", shape: { x: a[0], y: b[1], width: b[0] - a[0], height: a[1] - b[1] + 0.5 }, style: { fill: jet(api.value(0)) } };
          },
        },
      ],
    });
    return () => chart.dispose();
  }, []);
  return <div ref={ref} style={{ width: 1611, height: 938 }} />;
}
